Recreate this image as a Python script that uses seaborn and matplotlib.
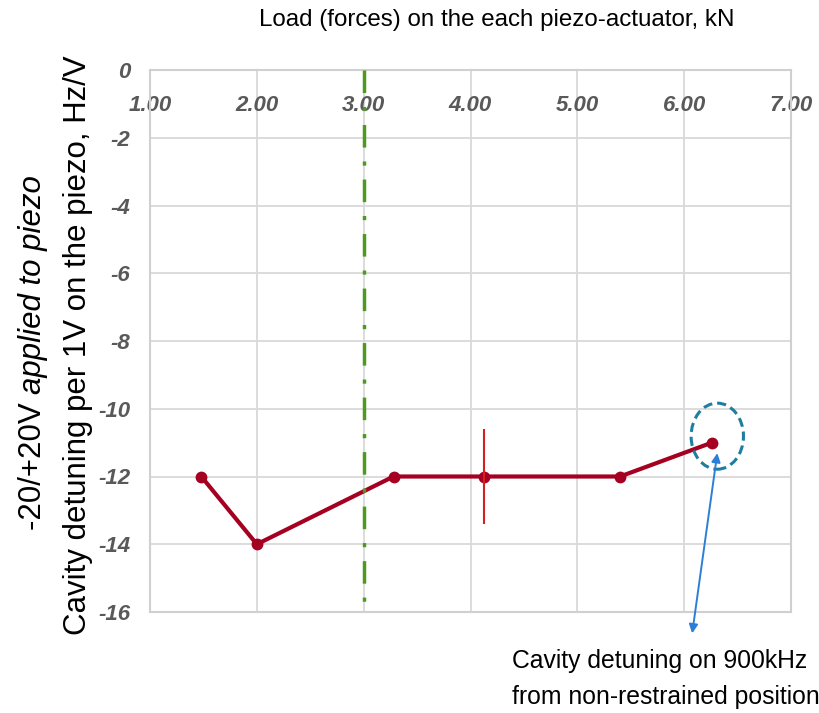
import matplotlib
matplotlib.use("Agg")
import matplotlib.pyplot as plt
import seaborn as sns
import pandas as pd
from matplotlib.patches import Ellipse

# data
load_kn = [1.48, 2.00, 3.28, 4.13, 5.40, 6.26]
detuning = [-12, -14, -12, -12, -12, -11]
err_x = [4.13]
err_y = [-12]
err_size = [1.4]
limit_x = 3.0          # green dash-dot marker line
x_ticks = [1, 2, 3, 4, 5, 6, 7]
x_labels = ["1.00", "2.00", "3.00", "4.00", "5.00", "6.00", "7.00"]
y_ticks = [0, -2, -4, -6, -8, -10, -12, -14, -16]
y_labels = ["0", "-2", "-4", "-6", "-8", "-10", "-12", "-14", "-16"]

NARROW = ["Liberation Sans Narrow", "Liberation Sans", "DejaVu Sans"]
REGULAR = ["Liberation Sans", "DejaVu Sans"]


def make_plot():
    df = pd.DataFrame({"load": load_kn, "detuning": detuning})

    sns.set_theme(style="whitegrid")
    plt.rcParams["font.family"] = REGULAR

    fig = plt.figure(figsize=(8.19, 7.13), dpi=100)
    ax = fig.add_axes([150 / 819, 1 - 612 / 713, 641 / 819, 542 / 713])

    sns.lineplot(data=df, x="load", y="detuning", ax=ax, color="#a50021",
                 linewidth=3, marker="o", markersize=8.5, markeredgewidth=0,
                 zorder=3)
    ax.errorbar(err_x, err_y, yerr=err_size, fmt="none", ecolor="#d42020",
                elinewidth=1.5, capsize=0, zorder=4)

    ax.plot([limit_x, limit_x], [0, -15.85], color="#4f9a1e", linewidth=2.5,
            linestyle=(0, (6.5, 4.0, 1.2, 4.0)), zorder=5)

    # dashed ellipse around the last point
    ax.add_patch(Ellipse((6.31, -10.81), 0.49, 1.95, fill=False,
                         edgecolor="#1d7ea0", linewidth=2.2,
                         linestyle=(0, (3, 1.6)), zorder=6))

    ax.annotate("", xy=(6.31, -11.31), xytext=(6.075, -16.63),
                arrowprops=dict(arrowstyle="<|-|>", color="#2b7fd6", lw=1.4,
                                mutation_scale=13, shrinkA=0, shrinkB=0),
                annotation_clip=False, zorder=7)

    ax.set_xlim(1, 7)
    ax.set_ylim(-16, 0)
    ax.set_xticks(x_ticks)
    ax.set_xticklabels(x_labels)
    ax.set_yticks(y_ticks)
    ax.set_yticklabels(y_labels)
    ax.xaxis.tick_top()
    ax.tick_params(axis="x", length=0, pad=-33)
    ax.tick_params(axis="y", length=0, pad=14)
    for lab in ax.get_xticklabels() + ax.get_yticklabels():
        lab.set_family(NARROW)
        lab.set_fontsize(16)
        lab.set_fontweight("bold")
        lab.set_fontstyle("italic")
        lab.set_color("#595959")

    ax.grid(True, color="#d9d9d9", linewidth=1.3)
    for sp in ax.spines.values():
        sp.set_visible(True)
        sp.set_color("#d0d0d0")
        sp.set_linewidth(1.5)
    ax.set_xlabel("")
    ax.set_ylabel("")

    # titles
    fig.text(497 / 819, 1 - 20 / 713, "Load (forces) on the each piezo-actuator, kN",
             ha="center", va="center", fontsize=17.4, family=NARROW, color="black")
    fig.text(78 / 819, 1 - 345 / 713, "Cavity detuning per 1V on the piezo, Hz/V",
             rotation=90, ha="center", va="center", fontsize=22.5,
             family=REGULAR, color="black")
    t1 = fig.text(33 / 819, 1 - 530 / 713, "-20/+20V ", rotation=90,
                  ha="center", va="bottom", fontsize=22.5, family=REGULAR,
                  color="black")
    fig.canvas.draw()
    bb = t1.get_window_extent()
    fig.text(33 / 819, bb.y1 / fig.bbox.height, "applied to piezo", rotation=90,
             ha="center", va="bottom", fontsize=22.5, family=REGULAR,
             style="italic", color="black")

    fig.text(512 / 819, 1 - 704 / 713,
             "Cavity detuning on 900kHz\nfrom non-restrained position",
             ha="left", va="baseline", fontsize=17.8, family=NARROW,
             color="black", linespacing=1.65)

    fig.savefig("out.png", dpi=100)


def main():
    make_plot()


if __name__ == "__main__":
    main()
